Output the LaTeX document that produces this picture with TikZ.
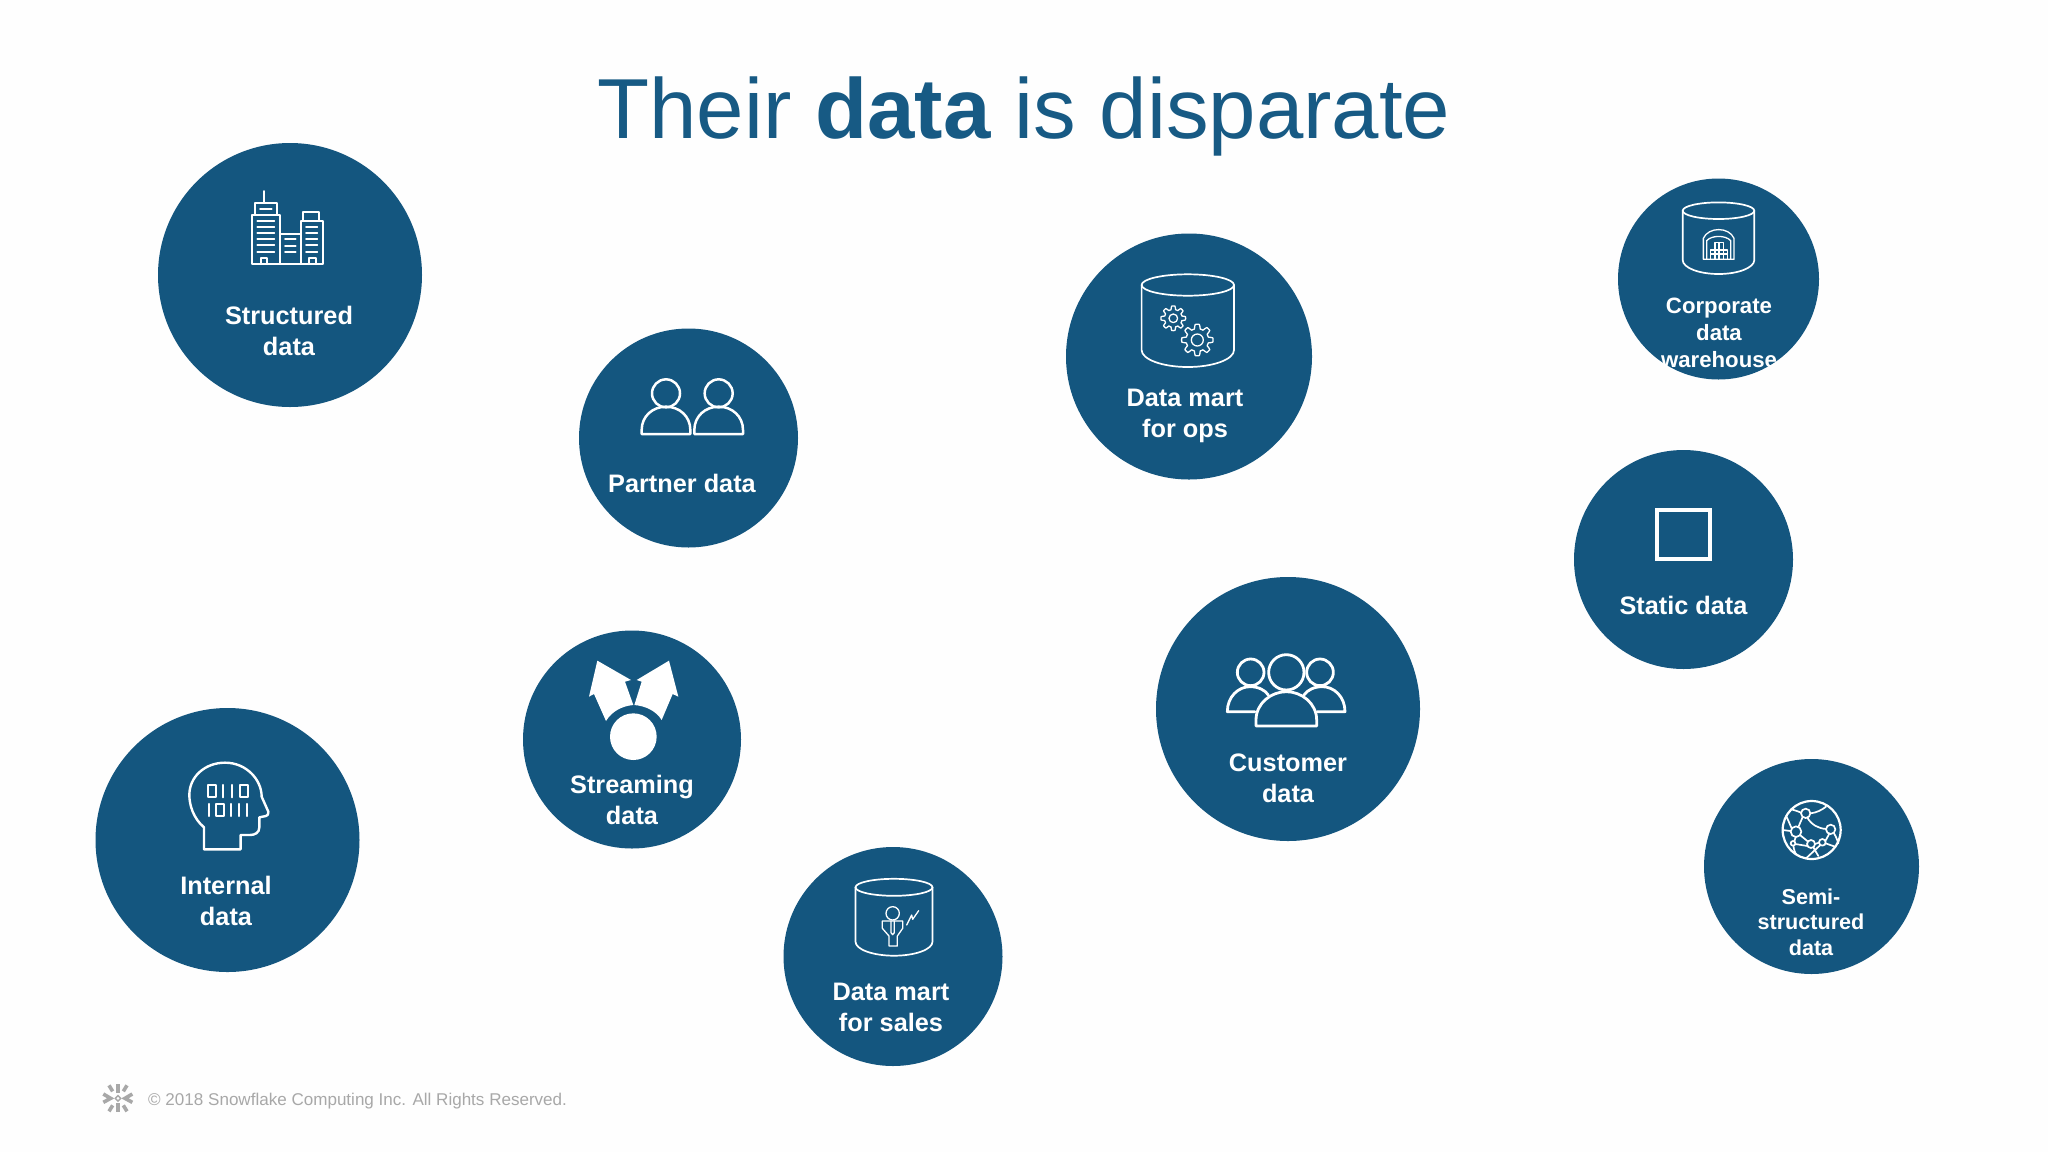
\documentclass[tikz,border=0pt]{standalone}
\usepackage{fontspec}
\setmainfont{Liberation Sans}
\definecolor{disc}{HTML}{14567F}
\definecolor{titleblue}{HTML}{175A84}
\definecolor{foot}{HTML}{A8A8A8}
\definecolor{paper}{HTML}{FEFEFE}
\tikzset{
  discnode/.style={circle,fill=disc,draw=none,inner sep=0pt},
  lab/.style={text=white,font=\bfseries\fontsize{25.3}{31}\selectfont,align=center,inner sep=0pt,anchor=base},
  labsmall/.style={lab,font=\bfseries\fontsize{22.2}{27}\selectfont},
  labsemi/.style={lab,font=\bfseries\fontsize{21.6}{25.5}\selectfont},
  icon/.style={draw=white,line width=1.7pt,line join=round,line cap=round},
  thin icon/.style={draw=white,line width=1.3pt,line join=round,line cap=round},
  logo/.style={draw=foot,line width=3.6pt}
}
\newcommand\iconcyl[6]{% cx cy rx ry sidebottom depth
  \draw[icon] ({#1-#3},#2) -- ({#1-#3},#5) .. controls ({#1-#3},{#5+0.55*#6}) and ({#1-0.55*#3},{#5+#6}) .. (#1,{#5+#6})
     .. controls ({#1+0.55*#3},{#5+#6}) and ({#1+#3},{#5+0.55*#6}) .. ({#1+#3},#5) -- ({#1+#3},#2);
  \draw[icon] (#1,#2) ellipse [x radius=#3,y radius=#4];}
\newcommand\icondome[4]{% cx base rx ry
  \draw[icon,line width=2.5pt] ({#1-#3},#2) -- ({#1-#3},{#2-12}) .. controls ({#1-#3},{#2-0.65*#4}) and ({#1-0.55*#3},{#2-#4}) .. (#1,{#2-#4})
     .. controls ({#1+0.55*#3},{#2-#4}) and ({#1+#3},{#2-0.65*#4}) .. ({#1+#3},{#2-12}) -- ({#1+#3},#2) -- cycle;}
\newcommand\icongear[4]{% cx cy R hole
  \draw[thin icon,shift={(#1,#2)}] plot[domain=0:360,samples=145,smooth] ({\x}:{#3*(0.86+0.14*max(-1,min(1,2.2*cos(8*\x))))}) -- cycle;
  \draw[thin icon] (#1,#2) circle[radius=#4];}
\begin{document}
\begin{tikzpicture}[x=1pt,y=-1pt]
\useasboundingbox (0,0) rectangle (2048,1152);
\fill[paper] (0,0) rectangle (2048,1152);
\node[text=titleblue,font=\fontsize{85.2}{85}\selectfont,anchor=base,inner sep=0pt] (title) at (1024,138) {Their \textbf{data} is disparate};
% discs
\node[discnode,minimum size=264pt] (structured) at (290,275) {};
\node[discnode,minimum size=219pt] (partner) at (688.5,438) {};
\node[discnode,minimum size=246pt] (ops) at (1189,356.5) {};
\node[discnode,minimum size=201pt] (corporate) at (1718.5,279) {};
\node[discnode,minimum size=219pt] (static) at (1683.5,559.5) {};
\node[discnode,minimum size=264pt] (customer) at (1288,709) {};
\node[discnode,minimum size=218pt] (streaming) at (632,739.5) {};
\node[discnode,minimum size=264pt] (internal) at (227.5,840) {};
\node[discnode,minimum size=219pt] (sales) at (893,956.5) {};
\node[discnode,minimum size=215pt] (semi) at (1811.5,866.5) {};
% labels
\node[lab] (lstructured) at (289,355.5) {Structured\\data};
\node[lab] (lpartner) at (682,492) {Partner data};
\node[lab] (lops) at (1185,437.5) {Data mart\\for ops};
\node[labsmall] (lcorporate) at (1719,367) {Corporate\\data\\warehouse};
\node[lab] (lstatic) at (1683.5,614) {Static data};
\node[lab] (lcustomer) at (1288,802) {Customer\\data};
\node[lab] (lstreaming) at (632,824.5) {Streaming\\data};
\node[lab] (linternal) at (226,925) {Internal\\data};
\node[lab] (lsales) at (891,1031) {Data mart\\for sales};
\node[labsemi] (lsemi) at (1811,955) {Semi-\\structured\\data};
% footer
\node[text=foot,font=\fontsize{17.05}{22}\selectfont,anchor=base west,inner sep=0pt] (footer) at (148,1105.5) {© 2018 Snowflake Computing Inc. All Rights Reserved.};
% buildings
\begin{scope}[shift={(140,130)},scale=0.33333]
 \draw[icon] (372,183)--(372,218);
 \draw[icon] (345,218) rectangle (410,255);
 \draw[icon] (360,237)--(395,237);
 \draw[icon] (335,255) rectangle (420,403);
 \foreach \yy in {273,291,309,327,345,365} \draw[icon] (352,\yy)--(403,\yy);
 \draw[icon] (362,403)--(362,384)--(382,384)--(382,403);
 \draw[icon] (420,312) rectangle (482,403);
 \foreach \yy in {328,347,365} \draw[icon] (435,\yy)--(467,\yy);
 \draw[icon] (482,272) rectangle (548,403);
 \draw[icon] (490,272)--(490,245)--(538,245)--(538,272);
 \foreach \yy in {290,308,326,345,365} \draw[icon] (498,\yy)--(532,\yy);
 \draw[icon] (508,403)--(508,385)--(528,385)--(528,403);
\end{scope}
% partner
\begin{scope}[shift={(620,360)},scale=0.33333]
 \draw[icon,line width=2.5pt] (138,100) circle[radius=42];
 \draw[icon,line width=2.5pt] (296,100) circle[radius=42];
 \icondome{138}{222}{73}{82}
 \icondome{296}{222}{73}{82}
\end{scope}
% ops
\iconcyl{1187.8}{285}{46.2}{10.7}{350}{17}
\icongear{1173.3}{318.3}{12.3}{4.3}
\icongear{1197.3}{340}{15.7}{6}
% corporate
\iconcyl{1718.5}{210.7}{35.8}{8.3}{260}{14}
\begin{scope}[shift={(1610,170)},scale=0.33333]
 \draw[thin icon] (280,268)--(280,205) .. controls (295,170) and (357,170) .. (372,205)--(372,268)--cycle;
 \draw[thin icon] (290,268)--(290,212) .. controls (305,195) and (347,195) .. (362,212)--(362,268);
 \draw[thin icon] (302,266)--(302,240)--(315,240)--(315,218)--(340,218)--(340,240)--(352,240)--(352,266);
 \draw[thin icon] (302,252)--(352,252) (315,240)--(340,240) (327,218)--(327,266) (315,240)--(315,266) (340,240)--(340,266);
\end{scope}
% static
\draw[draw=white,line width=3.8pt] (1657,510) rectangle (1710,559);
% customer
\begin{scope}[shift={(1200,640)},scale=0.33333]
 \draw[icon,line width=2.8pt] (152,97) circle[radius=40];
 \draw[icon,line width=2.8pt] (360,97) circle[radius=40];
 \draw[icon,line width=2.8pt] (259,97) circle[radius=53];
 \draw[icon,line width=2.8pt] (165,215)--(82,215) .. controls (82,170) and (115,140) .. (150,140) .. controls (175,140) and (195,150) .. (205,165);
 \draw[icon,line width=2.8pt] (352,215)--(435,215) .. controls (435,170) and (402,140) .. (367,140) .. controls (342,140) and (322,150) .. (312,165);
 \draw[icon,line width=2.8pt] (168,258)--(350,258)--(350,240) .. controls (350,190) and (305,155) .. (259,155) .. controls (213,155) and (168,190) .. (168,240)--cycle;
\end{scope}
% streaming
\begin{scope}[shift={(520,630)},scale=0.33333]
 \fill[white] (340,320) circle[radius=70];
 \fill[white] (232,92)--(333,150)--(315,155)--(340,225) .. controls (305,228) and (275,245) .. (258,273)--(222,192)--(207,200)--cycle;
 \fill[white] (447,92)--(350,150)--(365,155)--(343,225) .. controls (378,228) and (408,243) .. (425,270)--(458,192)--(475,200)--cycle;
\end{scope}
% internal
\begin{scope}[shift={(150,740)},scale=0.33333]
 \draw[icon,line width=2.4pt] (162,328)--(162,262) .. controls (130,235) and (118,195) .. (118,165) .. controls (118,110) and (165,68) .. (225,68) .. controls (290,68) and (335,120) .. (335,170)--(355,215) .. controls (356,222) and (353,227) .. (348,228)--(328,232)--(328,262) .. controls (328,278) and (315,285) .. (300,285)--(272,285)--(272,328)--cycle;
 \begin{scope}[icon/.append style={line width=2.2pt}]
 \draw[icon] (175,135) rectangle (197,172);
 \draw[icon] (220,135)--(220,172) (245,135)--(245,172);
 \draw[icon] (270,135) rectangle (293,172);
 \draw[icon] (177,192)--(177,228);
 \draw[icon] (198,192) rectangle (222,228);
 \draw[icon] (242,192)--(242,228) (266,192)--(266,228) (290,192)--(290,228);
 \end{scope}
\end{scope}
% sales
\iconcyl{894}{887.3}{38.5}{8.5}{941.7}{14}
\begin{scope}[shift={(820,860)},scale=0.33333]
 \draw[thin icon] (218,160) circle[radius=20];
 \draw[thin icon] (187,183)--(248,183)--(248,205)--(232,228)--(232,258)--(207,258)--(207,228)--(187,205)--cycle;
 \draw[thin icon] (213,183)--(213,218)--(218,224)--(223,218)--(223,183);
 \draw[thin icon] (260,195)--(275,165)--(278,178)--(296,152);
\end{scope}
% semi
\begin{scope}[shift={(1750,780)},scale=0.33333]
 \draw[icon,line width=2.2pt] (185,150) circle[radius=87];
 \foreach \xx/\yy/\rr in {167/100/14,242/148/14,138/155/16,183/192/12,217/187/10,129/190/7}
   \draw[icon] (\xx,\yy) circle[radius=\rr];
 \draw[icon] (153,98) .. controls (140,92) and (130,90) .. (125,88);
 \draw[icon] (181,100) .. controls (200,98) and (215,90) .. (228,80);
 \draw[icon] (172,113) .. controls (185,135) and (205,145) .. (228,147);
 \draw[icon] (158,111)--(145,141);
 \draw[icon] (108,108) .. controls (115,120) and (120,135) .. (125,145);
 \draw[icon] (98,150)--(122,153);
 \draw[icon] (150,165)--(173,184);
 \draw[icon] (195,192)--(207,188);
 \draw[icon] (226,183)--(238,161);
 \draw[icon] (252,160) .. controls (258,170) and (262,180) .. (265,190);
 \draw[icon] (133,184)--(137,171);
 \draw[icon] (136,192)--(172,198);
 \draw[icon] (130,197) .. controls (132,210) and (135,220) .. (140,224);
 \draw[icon] (190,202)--(205,228);
 \draw[icon] (210,196)--(168,235);
 \draw[icon] (227,190)--(255,200);
\end{scope}
% snowflake
\begin{scope}[shift={(90,1060)},scale=0.33333]
 \draw[logo] (84,72)--(84,100) (84,130)--(84,157);
 \draw[logo] (57,76)--(68,94) (111,76)--(100,94);
 \draw[logo] (57,154)--(68,136) (111,154)--(100,136);
 \draw[logo] (40,102)--(62,115)--(40,127);
 \draw[logo] (127,102)--(105,115)--(127,127);
 \draw[draw=foot,line width=1.4pt] (84,107)--(92,115)--(84,123)--(76,115)--cycle;
\end{scope}
\end{tikzpicture}
\end{document}
